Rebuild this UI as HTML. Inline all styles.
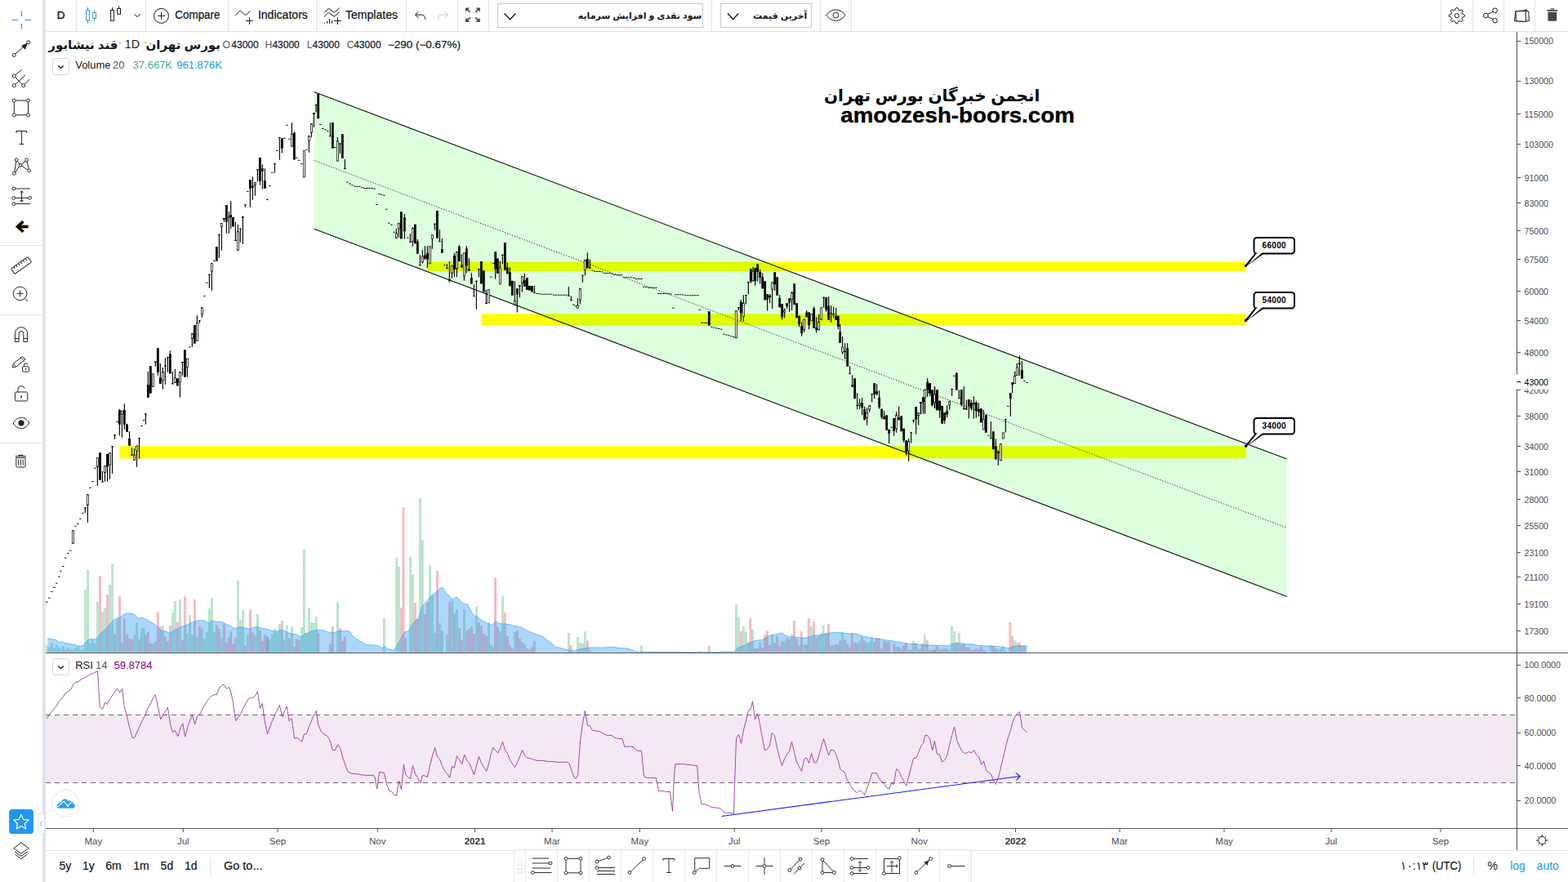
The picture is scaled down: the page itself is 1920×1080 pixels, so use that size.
<!DOCTYPE html>
<html><head><meta charset="utf-8"><title>Chart</title>
<style>
html,body{margin:0;padding:0;background:#fff;width:1920px;height:1080px;overflow:hidden}
svg{position:absolute;left:0;top:0;font-family:"Liberation Sans",sans-serif}
</style></head><body>
<svg width="1920" height="1080" viewBox="0 0 1920 1080">
<rect width="1920" height="1080" fill="#fff"/>
<g id="chart"><rect x="523.7" y="320.5" width="1002" height="11.7" fill="#ffff00"/><rect x="589.5" y="384.3" width="936.2" height="14" fill="#ffff00"/><rect x="146.3" y="546.3" width="1379.4" height="15" fill="#ffff00"/><polygon points="384.5,112.5 1575.8,562.1 1575.8,730.5 384.5,280.2" fill="#00ff00" fill-opacity="0.13"/><path d="M384.5 112.5L1575.8 562.1M384.5 280.2L1575.8 730.5" stroke="#0a1a0a" stroke-width="1.1" fill="none"/><path d="M384.5 196.4L1575.8 646.2" stroke="#222" stroke-width="1" stroke-dasharray="1.2 2" fill="none"/><path d="M103.06 722.06h3V798.8h-3zM106.12 697.34h3V798.8h-3zM117.94 737.16h3V798.8h-3zM124.06 749.19h3V798.8h-3zM127.12 745.03h3V798.8h-3zM133.03 715.94h3V798.8h-3zM136.09 690.12h3V798.8h-3zM198 766.25h3V798.8h-3zM210.03 749.84h3V798.8h-3zM212.88 736.06h3V798.8h-3zM219 734.09h3V798.8h-3zM231.03 753.12h3V798.8h-3zM254.88 745.03h3V798.8h-3zM257.94 732.12h3V798.8h-3zM289.88 711.12h3V798.8h-3zM292.94 759.03h3V798.8h-3zM296 747h3V798.8h-3zM313.94 752.03h3V798.8h-3zM334.94 769.97h3V798.8h-3zM340.84 764.06h3V798.8h-3zM349.81 765.16h3V798.8h-3zM355.94 767.12h3V798.8h-3zM367.97 768h3V798.8h-3zM370.81 672.19h3V798.8h-3zM376.94 743.94h3V798.8h-3zM380 761.88h3V798.8h-3zM382.84 762.97h3V798.8h-3zM385.91 754.88h3V798.8h-3zM411.94 737.16h3V798.8h-3zM468.81 757.06h3V798.8h-3zM484.09 683.12h3V798.8h-3zM486.94 694.06h3V798.8h-3zM500.94 681.38h3V798.8h-3zM503.78 703.25h3V798.8h-3zM512.97 610.06h3V798.8h-3zM515.81 661.25h3V798.8h-3zM525 692.31h3V798.8h-3zM528.06 729.06h3V798.8h-3zM530.91 775h3V798.8h-3zM537.03 762.97h3V798.8h-3zM546 777.19h3V798.8h-3zM552.12 734.97h3V798.8h-3zM558.03 746.12h3V798.8h-3zM567 746.12h3V798.8h-3zM582.09 742.19h3V798.8h-3zM596.97 762.31h3V798.8h-3zM600.03 789.22h3V798.8h-3zM602 792.5h3V798.8h-3zM610.97 772.81h3V798.8h-3zM614.03 730.16h3V798.8h-3zM629.12 773.25h3V798.8h-3zM638.09 785.94h3V798.8h-3zM694.97 775h3V798.8h-3zM705.91 780.03h3V798.8h-3zM708.97 787.03h3V798.8h-3zM712.03 788.12h3V798.8h-3zM714.88 773.25h3V798.8h-3zM784 790.31h3V798.8h-3zM854.88 796.88h3V798.8h-3zM900.06 740h3V798.8h-3zM902.91 755.31h3V798.8h-3zM909.03 766.91h3V798.8h-3zM911.88 773.91h3V798.8h-3zM914.94 785.94h3V798.8h-3zM920.19 771.06h3V798.8h-3zM944.03 777.19h3V798.8h-3zM968.09 777.19h3V798.8h-3zM991.94 767.34h3V798.8h-3zM1003.97 775h3V798.8h-3zM1006.81 765.16h3V798.8h-3zM1030 774.12h3V798.8h-3zM1065.88 780.47h3V798.8h-3zM1116.84 785.06h3V798.8h-3zM1130.84 777.19h3V798.8h-3zM1163.88 766.25h3V798.8h-3zM1166.94 773.25h3V798.8h-3zM1172.84 775h3V798.8h-3zM1211.78 790.31h3V798.8h-3zM1226.88 791.41h3V798.8h-3zM1240.88 784.19h3V798.8h-3zM1243.94 787.03h3V798.8h-3zM1253.12 790.75h3V798.8h-3zM55.83 790.42h3V798.8h-3zM58.83 792.72h3V798.8h-3zM61.83 786.92h3V798.8h-3zM64.83 794.03h3V798.8h-3zM67.83 789.27h3V798.8h-3zM70.83 792.46h3V798.8h-3zM72.83 795.12h3V798.8h-3zM75.83 791.18h3V798.8h-3zM78.83 795.67h3V798.8h-3zM81.83 792.69h3V798.8h-3zM84.83 795.7h3V798.8h-3zM87.83 795.69h3V798.8h-3zM90.83 793.73h3V798.8h-3zM93.83 792.1h3V798.8h-3zM96.83 796.08h3V798.8h-3zM99.83 795.3h3V798.8h-3zM108.83 787.37h3V798.8h-3zM111.83 783.6h3V798.8h-3zM114.83 787.88h3V798.8h-3zM142 758.62h3V798.8h-3zM147.83 786.14h3V798.8h-3zM163 776.82h3V798.8h-3zM166 762.33h3V798.8h-3zM172 770.32h3V798.8h-3zM174.5 768.69h3V798.8h-3zM185.83 788.3h3V798.8h-3zM227.83 775.83h3V798.8h-3zM233.83 777.37h3V798.8h-3zM239.83 780.65h3V798.8h-3zM245.83 768.93h3V798.8h-3zM248.83 782.3h3V798.8h-3zM251.83 774.12h3V798.8h-3zM260.83 774.58h3V798.8h-3zM269.83 781.61h3V798.8h-3zM301.83 777.29h3V798.8h-3zM310.83 778.08h3V798.8h-3zM325.83 779.84h3V798.8h-3zM328.83 782.84h3V798.8h-3zM331.83 776.2h3V798.8h-3zM337.83 774.47h3V798.8h-3zM346.83 783.14h3V798.8h-3zM373.83 775.92h3V798.8h-3zM959.17 784.93h3V798.8h-3zM983.17 789.02h3V798.8h-3zM1001.17 778.84h3V798.8h-3zM1019.17 789.66h3V798.8h-3zM1051.17 784.74h3V798.8h-3zM1060.17 787.13h3V798.8h-3zM1063.17 786.02h3V798.8h-3zM1096.17 791.77h3V798.8h-3zM1111.17 795.65h3V798.8h-3zM1123.17 794.85h3V798.8h-3zM1142.83 794.42h3V798.8h-3zM1161.17 795.89h3V798.8h-3zM1202.83 795.82h3V798.8h-3zM1223.83 794.31h3V798.8h-3z" fill="#3cb371" fill-opacity="0.35"/><path d="M121 705h3V798.8h-3zM129.97 727.97h3V798.8h-3zM145.06 730.16h3V798.8h-3zM191.88 749.19h3V798.8h-3zM194.94 767.34h3V798.8h-3zM206.97 766.25h3V798.8h-3zM215.94 761.88h3V798.8h-3zM224.91 730.16h3V798.8h-3zM236.94 734.09h3V798.8h-3zM304.97 746.12h3V798.8h-3zM343.91 760.12h3V798.8h-3zM405.81 767.12h3V798.8h-3zM415 769.09h3V798.8h-3zM490 743.94h3V798.8h-3zM492.41 621.22h3V798.8h-3zM495.25 781.12h3V798.8h-3zM506.84 738.03h3V798.8h-3zM509.91 757.94h3V798.8h-3zM518.88 752.03h3V798.8h-3zM521.94 737.81h3V798.8h-3zM533.97 699.09h3V798.8h-3zM539.88 772.16h3V798.8h-3zM549.06 737.16h3V798.8h-3zM554.97 750.94h3V798.8h-3zM561.09 768.88h3V798.8h-3zM563.94 784.19h3V798.8h-3zM570.06 772.16h3V798.8h-3zM573.12 769.97h3V798.8h-3zM575.97 766.91h3V798.8h-3zM579.03 776.09h3V798.8h-3zM584.94 762.31h3V798.8h-3zM588 766.25h3V798.8h-3zM591.06 776.09h3V798.8h-3zM593.91 778.94h3V798.8h-3zM605.06 707.19h3V798.8h-3zM607.91 768h3V798.8h-3zM616.88 750.06h3V798.8h-3zM619.94 778.94h3V798.8h-3zM623 790.31h3V798.8h-3zM626.06 794.03h3V798.8h-3zM631.97 772.16h3V798.8h-3zM635.03 782h3V798.8h-3zM640.94 789.22h3V798.8h-3zM644 794.03h3V798.8h-3zM647.06 795.78h3V798.8h-3zM697.81 790.31h3V798.8h-3zM717.94 784.19h3V798.8h-3zM866.91 790.97h3V798.8h-3zM905.97 772.81h3V798.8h-3zM917.34 757.06h3V798.8h-3zM935.06 777.19h3V798.8h-3zM937.91 772.16h3V798.8h-3zM970.94 760.12h3V798.8h-3zM979.91 773.25h3V798.8h-3zM988.88 757.06h3V798.8h-3zM995 761.22h3V798.8h-3zM1009.88 775h3V798.8h-3zM1012.94 764.06h3V798.8h-3zM1041.81 775h3V798.8h-3zM1071.78 781.12h3V798.8h-3zM1074.84 781.12h3V798.8h-3zM1107.88 787.03h3V798.8h-3zM1119.91 788.12h3V798.8h-3zM1128 788.12h3V798.8h-3zM1133.91 784.19h3V798.8h-3zM1169.78 785.94h3V798.8h-3zM1235.41 762.09h3V798.8h-3zM1238.03 778.94h3V798.8h-3zM1247 787.03h3V798.8h-3zM1250.06 790.75h3V798.8h-3zM139 777.09h3V798.8h-3zM150.83 757.78h3V798.8h-3zM154 776.85h3V798.8h-3zM157 781.79h3V798.8h-3zM160 782.72h3V798.8h-3zM169 782.79h3V798.8h-3zM176.83 777.44h3V798.8h-3zM179.83 773.44h3V798.8h-3zM182.83 787.77h3V798.8h-3zM188.83 785.38h3V798.8h-3zM200.83 779.43h3V798.8h-3zM203.83 784.97h3V798.8h-3zM221.83 783.59h3V798.8h-3zM242.83 766.25h3V798.8h-3zM263.83 765.45h3V798.8h-3zM266.83 769.56h3V798.8h-3zM272.83 764.02h3V798.8h-3zM275.83 787.19h3V798.8h-3zM278.83 780.46h3V798.8h-3zM281.17 773.22h3V798.8h-3zM283.83 787.89h3V798.8h-3zM286.83 780.82h3V798.8h-3zM298.83 790.45h3V798.8h-3zM307.83 774.4h3V798.8h-3zM316.83 772.14h3V798.8h-3zM319.83 784.74h3V798.8h-3zM322.83 777.01h3V798.8h-3zM325.83 779.54h3V798.8h-3zM352.83 781.46h3V798.8h-3zM358.83 792.24h3V798.8h-3zM361.83 782.19h3V798.8h-3zM364.83 784.21h3V798.8h-3zM388.17 775.41h3V798.8h-3zM402.83 787.88h3V798.8h-3zM417.83 784.82h3V798.8h-3zM420.83 779.26h3V798.8h-3zM649.83 792.33h3V798.8h-3zM652.83 785.26h3V798.8h-3zM720.83 796.62h3V798.8h-3zM923.17 793.99h3V798.8h-3zM926.17 794.46h3V798.8h-3zM929.17 786.54h3V798.8h-3zM932.17 793.49h3V798.8h-3zM941.17 790.03h3V798.8h-3zM947.17 787.08h3V798.8h-3zM950.17 778.82h3V798.8h-3zM953.17 791.62h3V798.8h-3zM956.17 785.19h3V798.8h-3zM962.17 781h3V798.8h-3zM965.17 782.74h3V798.8h-3zM974.17 782.48h3V798.8h-3zM977.17 790.73h3V798.8h-3zM986.17 789.52h3V798.8h-3zM998.17 780.2h3V798.8h-3zM1016.17 790.18h3V798.8h-3zM1022.17 788.64h3V798.8h-3zM1024.83 788.61h3V798.8h-3zM1027.17 784.18h3V798.8h-3zM1033.17 782.88h3V798.8h-3zM1036.17 788.6h3V798.8h-3zM1039.17 793.03h3V798.8h-3zM1045.17 786.18h3V798.8h-3zM1048.17 787.27h3V798.8h-3zM1054.17 779.72h3V798.8h-3zM1057.17 784.38h3V798.8h-3zM1069.17 786.08h3V798.8h-3zM1078.17 794.17h3V798.8h-3zM1081.17 784.75h3V798.8h-3zM1084.17 786.5h3V798.8h-3zM1087.17 785.73h3V798.8h-3zM1093.17 787.4h3V798.8h-3zM1099.17 791.92h3V798.8h-3zM1102.17 794.81h3V798.8h-3zM1105.17 790.49h3V798.8h-3zM1114.17 795.73h3V798.8h-3zM1125.83 795.38h3V798.8h-3zM1126.17 794.21h3V798.8h-3zM1136.83 796.27h3V798.8h-3zM1137.17 796.61h3V798.8h-3zM1139.83 795.69h3V798.8h-3zM1140.17 796.01h3V798.8h-3zM1143.17 796.52h3V798.8h-3zM1145.83 791.26h3V798.8h-3zM1146.17 792.87h3V798.8h-3zM1149.17 795.76h3V798.8h-3zM1152.17 795.13h3V798.8h-3zM1155.17 794.61h3V798.8h-3zM1158.17 794.59h3V798.8h-3zM1175.83 789.15h3V798.8h-3zM1178.83 788.37h3V798.8h-3zM1181.83 792.73h3V798.8h-3zM1184.83 792.68h3V798.8h-3zM1187.83 795.66h3V798.8h-3zM1190.83 795.7h3V798.8h-3zM1193.83 794.38h3V798.8h-3zM1196.83 795.07h3V798.8h-3zM1199.83 791.73h3V798.8h-3zM1205.83 796.65h3V798.8h-3zM1214.83 791.34h3V798.8h-3zM1217.83 793.92h3V798.8h-3zM1220.83 796.14h3V798.8h-3zM1229.83 797.25h3V798.8h-3z" fill="#e63c4b" fill-opacity="0.35"/><polygon points="58.19,798.8 58.19,781.56 64.75,782.66 69.12,783.75 72.41,786.59 75.69,785.94 80.06,787.47 86.62,788.56 91,789.22 95.38,790.97 99.75,790.75 103.03,789.88 106.31,784.84 109.59,782.66 116.16,782.66 119.44,780.47 123.81,775 130.38,769.53 134.75,764.06 139.12,759.25 143.5,757.06 147.88,755.31 152.25,752.03 156.62,750.94 162.09,750.94 165.38,753.12 168.66,757.06 175.22,756.41 178.5,757.94 182.88,760.78 187.25,762.97 191.62,766.25 196,770.62 199.28,773.47 202.56,772.81 206.94,775 209.12,774.56 213.5,771.72 217.88,769.53 222.25,767.34 226.62,766.25 231,764.06 235.38,761.88 239.75,760.34 246.31,759.25 250.69,760.34 255.06,762.97 260.53,760.12 266,761.44 271.47,761.44 274.75,762.97 279.12,765.16 283.5,767.34 286.78,769.53 293.34,768 298.81,768.44 305.38,770.19 309.75,768.44 314.12,767.34 318.5,768.88 325.06,770.19 329.44,771.06 333.81,772.81 338.19,773.25 344.75,771.28 349.12,772.81 353.5,775 357.88,776.09 364.44,777.19 368.81,780.47 373.19,775.66 377.56,775 381.94,772.81 388.5,771.28 393.97,771.28 399.44,772.81 403.81,775 410.38,774.34 414.75,772.81 421.31,772.38 425.69,772.16 428.97,773.91 432.25,779.38 438.81,783.75 445.38,787.69 449.75,789.44 458.5,789.88 460,789.88 464.38,791.41 467.66,793.59 470.94,791.41 475.31,794.69 481.88,796.22 485.16,792.5 490.62,782.66 495,773.91 500.47,772.81 503.75,766.25 508.12,760.78 512.5,756.41 516.88,742.19 521.25,737.81 525.62,732.34 530,727.97 534.38,724.69 537.66,721.41 542.03,719.22 545.31,724.69 549.69,729.06 552.97,733.88 559.53,731.25 562.81,734.53 567.19,738.91 572.66,740 575.94,746.56 579.22,753.12 583.59,754.88 589.06,759.25 594.53,761.88 600,764.72 603.28,765.16 607,760.78 610.94,763.62 617.5,764.06 624.06,764.5 629.53,766.69 635,766.91 639.38,768.44 645.94,772.38 652.5,775 659.06,777.62 664.53,778.94 670,783.75 674.38,786.38 679.84,792.06 685.31,793.16 690.78,794.69 696.25,796.22 702.81,796.88 707.19,795.78 713.75,794.25 720.31,792.94 729.06,792.94 740,792.94 746.56,792.5 750.94,791.84 757.5,793.59 766.25,793.81 772.81,795.34 779.38,797.97 788.12,798.19 831.88,798.19 836.25,798.62 858.12,798.62 860,798.62 879.69,798.62 884.06,797.97 899.38,797.97 902.66,794.25 907.03,792.06 912.5,789.88 916.88,788.56 921.25,785.5 925.62,784.19 934.38,783.31 938.75,780.47 944.22,777.62 949.69,776.75 954.06,775.66 957.34,775 961.72,778.28 967.19,780.03 973.75,779.81 979.22,781.12 985.78,781.12 991.25,779.81 996.72,778.28 1004.38,777.62 1010.94,776.75 1015.75,775 1021.88,774.56 1028.44,774.56 1035,775.44 1041.56,776.09 1048.12,776.09 1054.69,778.28 1059.06,779.81 1065.62,780.69 1072.19,782 1078.75,782.66 1085.31,783.75 1091.88,784.41 1096.25,785.5 1102.81,786.38 1109.38,787.69 1115.94,788.56 1122.5,788.56 1129.06,789.88 1135.62,789.88 1144.38,790.31 1153.12,790.31 1161.88,790.75 1165.16,788.56 1170.62,788.12 1177.19,787.69 1183.75,788.56 1190.31,788.78 1196.88,790.31 1205.62,790.75 1214.38,790.75 1223.12,791.41 1231.88,793.16 1236.25,793.59 1240.62,791.41 1245,790.75 1257.69,790.75 1257.69,798.8" fill="#2196f3" fill-opacity="0.38"/><polyline points="58.19,781.56 64.75,782.66 69.12,783.75 72.41,786.59 75.69,785.94 80.06,787.47 86.62,788.56 91,789.22 95.38,790.97 99.75,790.75 103.03,789.88 106.31,784.84 109.59,782.66 116.16,782.66 119.44,780.47 123.81,775 130.38,769.53 134.75,764.06 139.12,759.25 143.5,757.06 147.88,755.31 152.25,752.03 156.62,750.94 162.09,750.94 165.38,753.12 168.66,757.06 175.22,756.41 178.5,757.94 182.88,760.78 187.25,762.97 191.62,766.25 196,770.62 199.28,773.47 202.56,772.81 206.94,775 209.12,774.56 213.5,771.72 217.88,769.53 222.25,767.34 226.62,766.25 231,764.06 235.38,761.88 239.75,760.34 246.31,759.25 250.69,760.34 255.06,762.97 260.53,760.12 266,761.44 271.47,761.44 274.75,762.97 279.12,765.16 283.5,767.34 286.78,769.53 293.34,768 298.81,768.44 305.38,770.19 309.75,768.44 314.12,767.34 318.5,768.88 325.06,770.19 329.44,771.06 333.81,772.81 338.19,773.25 344.75,771.28 349.12,772.81 353.5,775 357.88,776.09 364.44,777.19 368.81,780.47 373.19,775.66 377.56,775 381.94,772.81 388.5,771.28 393.97,771.28 399.44,772.81 403.81,775 410.38,774.34 414.75,772.81 421.31,772.38 425.69,772.16 428.97,773.91 432.25,779.38 438.81,783.75 445.38,787.69 449.75,789.44 458.5,789.88 460,789.88 464.38,791.41 467.66,793.59 470.94,791.41 475.31,794.69 481.88,796.22 485.16,792.5 490.62,782.66 495,773.91 500.47,772.81 503.75,766.25 508.12,760.78 512.5,756.41 516.88,742.19 521.25,737.81 525.62,732.34 530,727.97 534.38,724.69 537.66,721.41 542.03,719.22 545.31,724.69 549.69,729.06 552.97,733.88 559.53,731.25 562.81,734.53 567.19,738.91 572.66,740 575.94,746.56 579.22,753.12 583.59,754.88 589.06,759.25 594.53,761.88 600,764.72 603.28,765.16 607,760.78 610.94,763.62 617.5,764.06 624.06,764.5 629.53,766.69 635,766.91 639.38,768.44 645.94,772.38 652.5,775 659.06,777.62 664.53,778.94 670,783.75 674.38,786.38 679.84,792.06 685.31,793.16 690.78,794.69 696.25,796.22 702.81,796.88 707.19,795.78 713.75,794.25 720.31,792.94 729.06,792.94 740,792.94 746.56,792.5 750.94,791.84 757.5,793.59 766.25,793.81 772.81,795.34 779.38,797.97 788.12,798.19 831.88,798.19 836.25,798.62 858.12,798.62 860,798.62 879.69,798.62 884.06,797.97 899.38,797.97 902.66,794.25 907.03,792.06 912.5,789.88 916.88,788.56 921.25,785.5 925.62,784.19 934.38,783.31 938.75,780.47 944.22,777.62 949.69,776.75 954.06,775.66 957.34,775 961.72,778.28 967.19,780.03 973.75,779.81 979.22,781.12 985.78,781.12 991.25,779.81 996.72,778.28 1004.38,777.62 1010.94,776.75 1015.75,775 1021.88,774.56 1028.44,774.56 1035,775.44 1041.56,776.09 1048.12,776.09 1054.69,778.28 1059.06,779.81 1065.62,780.69 1072.19,782 1078.75,782.66 1085.31,783.75 1091.88,784.41 1096.25,785.5 1102.81,786.38 1109.38,787.69 1115.94,788.56 1122.5,788.56 1129.06,789.88 1135.62,789.88 1144.38,790.31 1153.12,790.31 1161.88,790.75 1165.16,788.56 1170.62,788.12 1177.19,787.69 1183.75,788.56 1190.31,788.78 1196.88,790.31 1205.62,790.75 1214.38,790.75 1223.12,791.41 1231.88,793.16 1236.25,793.59 1240.62,791.41 1245,790.75 1257.69,790.75" fill="none" stroke="#2196f3" stroke-opacity="0.55" stroke-width="1"/><path d="M104.33 621.33V628.33M107.33 605.33V639.67M119.33 560.17V594.83M125.5 577.08V589.75M128.5 570.17V589.83M131.5 556.08V589.83M134.5 554.33V586.83M137.5 546.25V579.83M140.5 532.17V537.92M146.33 500.83V533.33M149.33 503V535.83M152.33 494.17V525.83M155.5 518.75V528.75M158.5 528.17V545.83M161.5 548.17V557.67M164.5 549.17V563.75M167.5 545.42V571.83M170.5 536.33V561.67M178.33 506.17V519.67M181.33 455V486.67M190.33 442.5V448.67M193.33 426.17V459.67M196.33 445V470M199.33 450V476.67M202.33 438.33V470.83M205.33 437.33V455.83M208.33 429.17V457.5M211.33 455V470.83M214.33 452V468.67M220.33 455.33V486.67M223.33 443V459.67M229.33 438.67V461.67M235.33 408.33V425M241.33 386.17V417.5M244.33 392.17V395.83M247.33 376.33V388.67M256.33 335.83V352.83M259.33 322.17V355.83M268.33 286.83V315.83M271.33 273V306.67M274.33 267V271.67M277.33 251V285.83M280.33 259.17V285.83M282.67 246.17V280M288.33 272V294.67M291.33 275V306.67M294.33 279.67V296.67M297.33 265V298.67M300.33 250.33V253.67M306.33 220V253.67M309.33 216.17V244.67M312.33 223.33V239.67M315.33 207.17V222.5M318.33 193V226.67M321.33 201.33V231.67M324.33 206.17V230.83M336.33 200V211.67M342.33 168V195.83M345.33 169.17V187.5M357.33 150V179.5M360.33 161.33V195.5M378.33 166.33V186.67M381.33 151.33V168.33M384.33 138V155.83M387 128V137.5M404.33 150V167M413.33 168V197.5M416.33 175.5V188.33M422.33 195V206.67M485.33 280V291.67M488.33 273.33V290.83M495.33 262V292.5M502.33 286.33V296.67M505.33 278.33V301.67M508.33 274.17V298.33M511.33 293V310.83M514.33 312.17V324.83M517.33 306.17V322.5M520.33 301.33V318.33M523.33 301.33V328.33M529.33 287.5V304.67M532.33 273.83V281.67M538.33 281.33V295.83M541.33 292V309.67M547.33 323.33V329M550.33 320V345.83M553.33 324.67V340.83M556.33 310V339.17M559.33 308.33V339.17M562.33 300V320M565.33 311.33V327.5M568.33 309.5V343.67M571.33 301.17V334.17M574.33 316.17V331.67M577.33 334.17V347.5M580.33 348.33V362.83M583.33 343.83V378.67M586.33 329.33V339.17M595.33 355V371.67M606.67 308.33V341.67M609.33 315.83V335M612.33 319.5V348.33M615.33 311.83V323.33M621.33 322V335.33M624.33 327.5V350.33M630.33 344.17V373M630.33 360V373.33M633.33 353.33V382.5M633.33 353.33V382.5M636.33 349.17V364.17M639.33 338.33V357.5M642.33 335V350.83M654.33 350V358.67M696.33 351.17V362.33M699.33 362.5V367.83M707.33 365.33V377.5M710.33 353.33V372.5M713.33 336.83V345.83M716.33 318.33V337.5M719.33 309.17V328.33M722.33 317.5V328.33M904.33 376.33V380M907.33 367V393.33M910.33 361.33V393.67M913.33 361V372.5M916.33 345.17V360.33M919.33 329.17V346.67M922 326.67V344.17M924.67 328.33V349.67M927.67 323.33V344.67M930.67 330V347.5M933.67 334.17V353.33M939.67 360V380.5M942.67 360V371.33M945.67 345.5V378.33M948.67 333.33V355.83M954.67 361.17V376.33M957.67 372V391.33M960.67 377.5V389.17M963.67 371.33V378.33M966.67 365.33V382M969.67 357V380M978.67 386.67V400.33M981.67 394.17V411.67M984.67 390.83V406.67M987.67 380V388.33M990.67 382.5V403.33M996.67 375.33V401.67M999.67 388.33V407.5M1002.67 385V404.17M1008.67 363.83V376.67M1011.67 364.17V381.67M1014.67 363.33V391.67M1017.67 374.17V394.67M1020.67 375.83V389.17M1023.67 377V391.67M1026.33 386.67V403.33M1028.67 396.67V419.67M1031.67 412V433.67M1034.67 420.33V439.67M1037.67 420.33V448.67M1040.67 448.33V457.83M1043.67 459.17V473.67M1049.67 481.33V501.33M1052.67 488.33V501.33M1055.67 487V508.33M1058.67 497.5V514.17M1061.67 499.17V520.83M1064.67 496.33V504.67M1067.67 482.17V492.5M1070.67 469.17V488.33M1073.67 470.33V484.17M1076.67 478.33V500.83M1079.67 500.83V513.33M1082.67 503.33V513.33M1088.67 525.83V543M1094.67 512V533.67M1097.67 504.17V529.67M1100.67 498V515M1106.67 524.67V541.67M1109.67 539.17V557.5M1112.67 537V564.67M1115.67 529.17V542.5M1118.67 514.33V517.5M1121.67 498V531.67M1124.67 505.33V520.83M1127.33 492V506.67M1127.67 492V507.5M1130.33 486.33V504.17M1130.67 486.33V506.67M1132.67 476.67V506.67M1135.67 463V485.83M1135.67 463.33V477M1138.67 469.17V485.33M1141.33 477.5V497.5M1141.67 477.5V497.5M1144.33 473.33V500M1144.67 473.33V500M1150.67 490.83V511.67M1156.67 505.33V518.67M1159.67 496.33V511.33M1162.67 491.33V501.67M1165.67 476V484.67M1171.33 455.83V477.5M1174.33 477.5V487.83M1177.33 477.17V497.5M1180.33 473.33V501.67M1183.33 489.67V501.67M1186.33 489.17V512.5M1189.33 489.67V502.5M1192.33 485.33V512.5M1195.33 490.83V511.67M1198.33 493.33V510M1204.33 501.67V526.33M1213.33 516.17V536.67M1219.33 537.5V562.5M1222.33 551.33V569.67M1231.33 513.33V529.5M1237.33 481.33V509.67M1239.67 468.33V481.33M1242.67 454.67V470M1245.33 444.67V460M1248.33 435.33V460M1251.44 442V463.67" stroke="#000" stroke-width="1.15" fill="none"/><path d="M56.18 736.67h2.3v1h-2.3zM59.18 731.67h2.3v1h-2.3zM62.18 724h2.3v1h-2.3zM65.18 719h2.3v1h-2.3zM68.18 713.83h2.3v1h-2.3zM71.18 705.83h2.3v1h-2.3zM73.18 698.83h2.3v1h-2.3zM76.18 693h2.3v1h-2.3zM79.18 682.83h2.3v1h-2.3zM82.18 677h2.3v1h-2.3zM85.18 673.83h2.3v1h-2.3zM87.93 649.33h2.8v16.33h-2.8zM91.18 643.83h2.3v1h-2.3zM94.18 641h2.3v1h-2.3zM97.18 634.83h2.3v1h-2.3zM100.18 627.83h2.3v1h-2.3zM102.93 621.33h2.8v1h-2.8zM105.93 605.33h2.8v13.33h-2.8zM109.18 596.83h2.3v1h-2.3zM112.18 589h2.3v1h-2.3zM115.18 572.83h2.3v1h-2.3zM117.93 560.17h2.8v11.5h-2.8zM121.1 554.17h2.8v33.5h-2.8zM124.1 589.42h2.8v1h-2.8zM127.1 570.17h2.8v8.58h-2.8zM130.1 556.08h2.8v15.58h-2.8zM133.1 554.33h2.8v15.25h-2.8zM136.1 546.25h2.8v1h-2.8zM139.1 532.17h2.8v1h-2.8zM142.35 515.92h2.3v1h-2.3zM144.93 502h2.8v17.67h-2.8zM147.93 503h2.8v4.5h-2.8zM150.93 502h2.8v17.67h-2.8zM154.1 519.83h2.8v8.92h-2.8zM157.1 537.08h2.8v8.75h-2.8zM160.1 556.5h2.8v1.17h-2.8zM163.1 556.67h2.8v7.08h-2.8zM166.1 545.42h2.8v7.08h-2.8zM169.1 536.33h2.8v1h-2.8zM172.35 521h2.3v1h-2.3zM174.85 513.92h2.3v1h-2.3zM176.93 506.17h2.8v1h-2.8zM179.93 471.33h2.8v15.33h-2.8zM182.93 448.33h2.8v33.33h-2.8zM185.93 457.5h2.8v16.17h-2.8zM188.93 442.5h2.8v1.17h-2.8zM191.93 426.17h2.8v29.67h-2.8zM194.93 462.5h2.8v7.5h-2.8zM197.93 455.33h2.8v11h-2.8zM200.93 447.67h2.8v1h-2.8zM203.93 437.33h2.8v1h-2.8zM206.93 433.33h2.8v24.17h-2.8zM209.93 469.17h2.8v1h-2.8zM212.93 462.5h2.8v6.17h-2.8zM215.93 463.33h2.8v9.17h-2.8zM218.93 455.33h2.8v13h-2.8zM221.93 443h2.8v1h-2.8zM224.93 428.33h2.8v33.33h-2.8zM227.93 438.67h2.8v11.67h-2.8zM231.18 424.5h2.3v1h-2.3zM233.93 408.33h2.8v6.33h-2.8zM236.93 398h2.8v22.83h-2.8zM239.93 395h2.8v22.5h-2.8zM242.93 392.17h2.8v1h-2.8zM245.93 376.33h2.8v9h-2.8zM249.18 362h2.3v1h-2.3zM252.18 345.83h2.3v1h-2.3zM254.93 335.83h2.8v1h-2.8zM257.93 322.17h2.8v10.33h-2.8zM261.18 319h2.3v1h-2.3zM263.93 302h2.8v17.67h-2.8zM266.93 286.83h2.8v1h-2.8zM269.93 273h2.8v4.5h-2.8zM272.93 267h2.8v1.67h-2.8zM275.93 251h2.8v20.67h-2.8zM278.93 265.5h2.8v1h-2.8zM281.27 263.33h2.8v3h-2.8zM283.93 266h2.8v11.5h-2.8zM286.93 294h2.8v1h-2.8zM289.93 283.33h2.8v23.33h-2.8zM292.93 279.67h2.8v1h-2.8zM295.93 265h2.8v1.67h-2.8zM298.93 250.33h2.8v1h-2.8zM302.18 234h2.3v1h-2.3zM304.93 220h2.8v10.83h-2.8zM307.93 227.5h2.8v2.17h-2.8zM310.93 223.33h2.8v3.33h-2.8zM313.93 207.17h2.8v1h-2.8zM316.93 193h2.8v28.67h-2.8zM319.93 206.33h2.8v3.33h-2.8zM322.93 221.17h2.8v9.67h-2.8zM326.18 243.83h2.3v1h-2.3zM326.18 244h2.3v1h-2.3zM329.18 227h2.3v1h-2.3zM332.18 210.83h2.3v1h-2.3zM334.93 200h2.8v1h-2.8zM338.18 184h2.3v1h-2.3zM340.93 168h2.8v1h-2.8zM343.93 169.17h2.8v12.5h-2.8zM347.18 168.83h2.3v1h-2.3zM350.18 152.83h2.3v1h-2.3zM353.18 169.83h2.3v1h-2.3zM355.93 164.17h2.8v15.33h-2.8zM358.93 162.5h2.8v33h-2.8zM362.18 192.83h2.3v1h-2.3zM365.18 195.83h2.3v1h-2.3zM368.18 200h2.3v1h-2.3zM370.93 184.17h2.8v33.33h-2.8zM374.18 182.83h2.3v1h-2.3zM376.93 166.33h2.8v7h-2.8zM379.93 151.33h2.8v11.17h-2.8zM382.93 138h2.8v1.67h-2.8zM385.6 128h2.8v1h-2.8zM388.27 114.67h2.8v30.67h-2.8zM391.18 152h2.3v1h-2.3zM394.18 157h2.3v1h-2.3zM397.18 158.17h2.3v1h-2.3zM400.18 160.17h2.3v1h-2.3zM402.93 166.33h2.8v1h-2.8zM405.93 150h2.8v31.67h-2.8zM409.18 180h2.3v1h-2.3zM411.93 172.5h2.8v25h-2.8zM414.93 175.5h2.8v1h-2.8zM417.93 164.17h2.8v29.5h-2.8zM420.93 206h2.8v1h-2.8zM424.18 222.83h2.3v1h-2.3zM427.18 224.5h2.3v1h-2.3zM430.18 226.17h2.3v1h-2.3zM433.18 227.5h2.3v1h-2.3zM436.18 228h2.3v1h-2.3zM439.18 227.83h2.3v1h-2.3zM442.18 229.17h2.3v1h-2.3zM445.18 230h2.3v1h-2.3zM448.18 230h2.3v1h-2.3zM451.18 230h2.3v1h-2.3zM454.18 230h2.3v1h-2.3zM457.18 230.83h2.3v1h-2.3zM460.18 250h2.3v1h-2.3zM463.18 237h2.3v1h-2.3zM466.18 237.83h2.3v1h-2.3zM469.18 238.67h2.3v1h-2.3zM472.18 255.67h2.3v1h-2.3zM475.18 272.83h2.3v1h-2.3zM478.18 274.83h2.3v1h-2.3zM481.18 283.67h2.3v1h-2.3zM483.93 285.33h2.8v6.33h-2.8zM486.93 273.33h2.8v7h-2.8zM489.93 259.17h2.8v33.33h-2.8zM493.93 266.17h2.8v17.17h-2.8zM498.18 290.83h2.3v1h-2.3zM500.93 296h2.8v1h-2.8zM503.93 279.17h2.8v16.67h-2.8zM506.93 275h2.8v23.33h-2.8zM509.93 295.83h2.8v15h-2.8zM512.93 324.17h2.8v1h-2.8zM515.93 313.67h2.8v7.67h-2.8zM518.93 312.5h2.8v4.17h-2.8zM521.93 310h2.8v7.5h-2.8zM524.93 301.33h2.8v22h-2.8zM527.93 287.5h2.8v5h-2.8zM530.93 273.83h2.8v1h-2.8zM533.93 258h2.8v33.67h-2.8zM536.93 295.17h2.8v1h-2.8zM539.93 305.33h2.8v4.33h-2.8zM543.18 324.17h2.3v1h-2.3zM545.93 328.33h2.8v1h-2.8zM548.93 341.67h2.8v2.5h-2.8zM551.93 324.67h2.8v10h-2.8zM554.93 313h2.8v17h-2.8zM557.93 308.33h2.8v20.83h-2.8zM560.93 301.67h2.8v18.33h-2.8zM563.93 324.17h2.8v3.33h-2.8zM566.93 309.5h2.8v28.83h-2.8zM569.93 304.17h2.8v21.17h-2.8zM572.93 329.17h2.8v2.5h-2.8zM575.93 340h2.8v7.5h-2.8zM578.93 362.17h2.8v1h-2.8zM581.93 343.83h2.8v1h-2.8zM584.93 329.33h2.8v1h-2.8zM587.93 320h2.8v27.5h-2.8zM590.93 331.33h2.8v26.17h-2.8zM593.93 371h2.8v1h-2.8zM596.93 354.17h2.8v17.17h-2.8zM600.18 338.83h2.3v1h-2.3zM603.18 322h2.3v1h-2.3zM605.27 308.33h2.8v21.33h-2.8zM607.93 316.67h2.8v18.33h-2.8zM610.93 327.5h2.8v20.83h-2.8zM613.93 311.83h2.8v1h-2.8zM616.93 297h2.8v33.83h-2.8zM619.93 327.5h2.8v7.83h-2.8zM622.93 333.33h2.8v17h-2.8zM625.93 343.67h2.8v18h-2.8zM628.93 368h2.8v5h-2.8zM628.93 368.33h2.8v5h-2.8zM631.93 353.33h2.8v7.5h-2.8zM631.93 353.33h2.8v7h-2.8zM634.93 349.17h2.8v1.67h-2.8zM637.93 338.33h2.8v8.33h-2.8zM640.93 343.33h2.8v7.5h-2.8zM643.93 340.33h2.8v14.67h-2.8zM646.93 350h2.8v5.83h-2.8zM649.93 350h2.8v7.5h-2.8zM652.93 358h2.8v1h-2.8zM656.18 359h2.3v1h-2.3zM659.18 359.17h2.3v1h-2.3zM662.18 359.83h2.3v1h-2.3zM665.18 359.83h2.3v1h-2.3zM668.18 359.83h2.3v1h-2.3zM671.18 359.83h2.3v1h-2.3zM674.18 359.83h2.3v1h-2.3zM677.18 360.67h2.3v1h-2.3zM680.18 360.67h2.3v1h-2.3zM683.18 360.67h2.3v1h-2.3zM686.18 360.67h2.3v1h-2.3zM689.18 360.67h2.3v1h-2.3zM692.18 360.67h2.3v1h-2.3zM694.93 361.67h2.8v1h-2.8zM697.93 367.17h2.8v1h-2.8zM701.18 372.83h2.3v1h-2.3zM703.52 374.5h2.3v1h-2.3zM705.93 373.33h2.8v4.17h-2.8zM708.93 353.33h2.8v14.17h-2.8zM711.93 336.83h2.8v1h-2.8zM714.93 318.33h2.8v12.5h-2.8zM717.93 316.67h2.8v11.67h-2.8zM720.93 327.67h2.8v1h-2.8zM724.18 330.83h2.3v1h-2.3zM727.18 331.67h2.3v1h-2.3zM730.18 332h2.3v1h-2.3zM733.18 332h2.3v1h-2.3zM736.18 332.5h2.3v1h-2.3zM739.18 334h2.3v1h-2.3zM742.18 334h2.3v1h-2.3zM745.18 334h2.3v1h-2.3zM748.18 334.83h2.3v1h-2.3zM751.18 335.83h2.3v1h-2.3zM754.18 336.17h2.3v1h-2.3zM757.18 336.17h2.3v1h-2.3zM760.18 336.17h2.3v1h-2.3zM763.18 339.17h2.3v1h-2.3zM766.18 339.17h2.3v1h-2.3zM769.18 339.17h2.3v1h-2.3zM772.18 339.17h2.3v1h-2.3zM775.18 340h2.3v1h-2.3zM778.18 341h2.3v1h-2.3zM781.18 341h2.3v1h-2.3zM784.18 341h2.3v1h-2.3zM787.18 350.83h2.3v1h-2.3zM790.18 351.17h2.3v1h-2.3zM793.18 351.67h2.3v1h-2.3zM796.18 351.67h2.3v1h-2.3zM799.18 351.67h2.3v1h-2.3zM802.18 351.67h2.3v1h-2.3zM805.18 359h2.3v1h-2.3zM805.18 359h2.3v1h-2.3zM808.18 359h2.3v1h-2.3zM808.18 359h2.3v1h-2.3zM811.18 359h2.3v1h-2.3zM814.18 359h2.3v1h-2.3zM817.18 359h2.3v1h-2.3zM820.18 359.5h2.3v1h-2.3zM823.18 376.67h2.3v1h-2.3zM826.18 360.17h2.3v1h-2.3zM829.18 360.17h2.3v1h-2.3zM832.18 360.17h2.3v1h-2.3zM835.18 360.5h2.3v1h-2.3zM838.18 361.17h2.3v1h-2.3zM841.18 361.17h2.3v1h-2.3zM844.18 361.17h2.3v1h-2.3zM847.18 361.17h2.3v1h-2.3zM850.18 361.17h2.3v1h-2.3zM853.18 361.17h2.3v1h-2.3zM855.52 379h2.3v1h-2.3zM858.52 394.83h2.3v1h-2.3zM861.52 394.83h2.3v1h-2.3zM864.52 394.83h2.3v1h-2.3zM866.93 381.17h2.8v17.5h-2.8zM870.18 399.83h2.3v1h-2.3zM873.18 400.83h2.3v1h-2.3zM876.18 401.5h2.3v1h-2.3zM879.18 402h2.3v1h-2.3zM882.18 402.83h2.3v1h-2.3zM885.18 408.67h2.3v1h-2.3zM888.18 409.5h2.3v1h-2.3zM891.18 410.33h2.3v1h-2.3zM894.18 411.17h2.3v1h-2.3zM897.18 412h2.3v1h-2.3zM899.93 380.33h2.8v33.83h-2.8zM902.93 376.33h2.8v1h-2.8zM905.93 370h2.8v13.33h-2.8zM908.93 370.83h2.8v17.17h-2.8zM911.93 361h2.8v1h-2.8zM914.93 345.17h2.8v1h-2.8zM917.93 329.17h2.8v15.83h-2.8zM920.6 331.67h2.8v12.5h-2.8zM923.27 328.33h2.8v15.83h-2.8zM926.27 323.33h2.8v9.67h-2.8zM929.27 333h2.8v7h-2.8zM932.27 339.17h2.8v14.17h-2.8zM935.27 344.17h2.8v23.33h-2.8zM938.27 360h2.8v6.67h-2.8zM941.27 361.67h2.8v2.5h-2.8zM944.27 345.5h2.8v9.17h-2.8zM947.27 333.33h2.8v15h-2.8zM950.27 339.17h2.8v22.5h-2.8zM953.27 365h2.8v11.33h-2.8zM956.27 372h2.8v16.33h-2.8zM959.27 379.67h2.8v2.83h-2.8zM962.27 371.33h2.8v3.67h-2.8zM965.27 365.33h2.8v5.5h-2.8zM968.27 358.33h2.8v8.67h-2.8zM971.27 347.17h2.8v26.17h-2.8zM974.27 371.33h2.8v17.83h-2.8zM977.27 386.67h2.8v10.83h-2.8zM980.27 399.17h2.8v9.17h-2.8zM983.27 390.83h2.8v13.33h-2.8zM986.27 382.5h2.8v5.83h-2.8zM989.27 382.5h2.8v15.83h-2.8zM992.27 384.17h2.8v9.17h-2.8zM995.27 377.5h2.8v24.17h-2.8zM998.27 401.33h2.8v2.83h-2.8zM1001.27 394.17h2.8v10h-2.8zM1004.27 376.33h2.8v15.33h-2.8zM1007.27 363.83h2.8v1h-2.8zM1010.27 364.17h2.8v15h-2.8zM1013.27 374.17h2.8v17.5h-2.8zM1016.27 383.33h2.8v1h-2.8zM1019.27 383.67h2.8v2.67h-2.8zM1022.27 386.67h2.8v5h-2.8zM1024.93 386.67h2.8v13.33h-2.8zM1027.27 406.33h2.8v13.33h-2.8zM1030.27 424.67h2.8v7h-2.8zM1033.27 430h2.8v1h-2.8zM1036.27 426.17h2.8v22.5h-2.8zM1039.27 457.17h2.8v1h-2.8zM1042.27 471.33h2.8v2.33h-2.8zM1045.27 463.33h2.8v25h-2.8zM1048.27 496h2.8v1h-2.8zM1051.27 493.67h2.8v3h-2.8zM1054.27 493.33h2.8v5.83h-2.8zM1057.27 500.83h2.8v13.33h-2.8zM1060.27 505.33h2.8v6.33h-2.8zM1063.27 496.33h2.8v5.33h-2.8zM1066.27 482.17h2.8v1h-2.8zM1069.27 469.17h2.8v14.17h-2.8zM1072.27 479.17h2.8v3.33h-2.8zM1075.27 487h2.8v11.67h-2.8zM1078.27 500.83h2.8v10h-2.8zM1081.27 510h2.8v3.33h-2.8zM1084.27 508.33h2.8v18.33h-2.8zM1087.27 525.83h2.8v5h-2.8zM1090.52 522.83h2.3v1h-2.3zM1093.27 512h2.8v16h-2.8zM1096.27 508.33h2.8v17h-2.8zM1099.27 511.33h2.8v2.33h-2.8zM1102.27 509.17h2.8v19.17h-2.8zM1105.27 524.67h2.8v14.5h-2.8zM1108.27 539.17h2.8v14.17h-2.8zM1111.27 540.33h2.8v12.17h-2.8zM1114.27 529.17h2.8v1h-2.8zM1117.27 514.33h2.8v1h-2.8zM1120.27 498.33h2.8v15.33h-2.8zM1123.27 505.33h2.8v3.83h-2.8zM1125.93 492h2.8v1.67h-2.8zM1126.27 492h2.8v2.17h-2.8zM1128.93 486.67h2.8v4.67h-2.8zM1129.27 486.33h2.8v5.67h-2.8zM1131.27 476.67h2.8v10.33h-2.8zM1131.27 476.67h2.8v10.83h-2.8zM1134.27 467.5h2.8v10h-2.8zM1134.27 467.5h2.8v9.5h-2.8zM1136.93 469.67h2.8v12h-2.8zM1137.27 469.17h2.8v12.5h-2.8zM1139.93 477.5h2.8v18.33h-2.8zM1140.27 477.5h2.8v18.33h-2.8zM1142.93 482.5h2.8v10.83h-2.8zM1143.27 482.5h2.8v10.83h-2.8zM1145.93 477.5h2.8v24.5h-2.8zM1146.27 477.17h2.8v25.33h-2.8zM1149.27 490.83h2.8v11.67h-2.8zM1152.27 497h2.8v21.67h-2.8zM1155.27 505.33h2.8v9.67h-2.8zM1158.27 503.33h2.8v4.17h-2.8zM1161.27 491.33h2.8v5h-2.8zM1164.27 476h2.8v1h-2.8zM1167.18 459.83h2.3v1h-2.3zM1169.93 457h2.8v20.5h-2.8zM1172.93 487.17h2.8v1h-2.8zM1175.93 477.17h2.8v18.17h-2.8zM1178.93 499.67h2.8v1.33h-2.8zM1181.93 500.33h2.8v1.33h-2.8zM1184.93 489.17h2.8v8.33h-2.8zM1187.93 493.33h2.8v6.33h-2.8zM1190.93 493h2.8v2.33h-2.8zM1193.93 493h2.8v10.33h-2.8zM1196.93 500.83h2.8v3.33h-2.8zM1199.93 500.33h2.8v17.17h-2.8zM1202.93 513h2.8v13.33h-2.8zM1205.93 507.83h2.8v21.83h-2.8zM1209.18 532.83h2.3v1h-2.3zM1211.93 536h2.8v1h-2.8zM1214.93 528.33h2.8v22h-2.8zM1217.93 546.33h2.8v16.17h-2.8zM1220.93 553.33h2.8v1.67h-2.8zM1223.93 543.33h2.8v20.83h-2.8zM1226.93 529.5h2.8v8h-2.8zM1229.93 513.33h2.8v1h-2.8zM1233.18 497h2.3v1h-2.3zM1235.93 481.33h2.8v7h-2.8zM1238.27 468.33h2.8v3h-2.8zM1241.27 460.33h2.8v9.67h-2.8zM1243.93 449.5h2.8v10.5h-2.8zM1246.93 444.17h2.8v2.17h-2.8zM1250.04 453.11h2.8v10.56h-2.8zM1253.29 465.83h2.3v1h-2.3zM1256.29 468.06h2.3v1h-2.3z" fill="#000"/><path d="M88.68 650.13h1.3v14.73h-1.3zM106.68 606.13h1.3v11.73h-1.3zM118.68 560.97h1.3v9.9h-1.3zM127.85 570.97h1.3v6.98h-1.3zM133.85 555.13h1.3v13.65h-1.3zM148.68 503.8h1.3v2.9h-1.3zM163.85 557.47h1.3v5.48h-1.3zM166.85 546.22h1.3v5.48h-1.3zM186.68 458.3h1.3v14.57h-1.3zM198.68 456.13h1.3v9.4h-1.3zM213.68 463.3h1.3v4.57h-1.3zM219.68 456.13h1.3v11.4h-1.3zM228.68 439.47h1.3v10.07h-1.3zM234.68 409.13h1.3v4.73h-1.3zM240.68 395.8h1.3v20.9h-1.3zM246.68 377.13h1.3v7.4h-1.3zM258.68 322.97h1.3v8.73h-1.3zM270.68 273.8h1.3v2.9h-1.3zM290.68 284.13h1.3v21.73h-1.3zM311.68 224.13h1.3v1.73h-1.3zM356.68 164.97h1.3v13.73h-1.3zM371.68 184.97h1.3v31.73h-1.3zM377.68 167.13h1.3v5.4h-1.3zM380.68 152.13h1.3v9.57h-1.3zM412.68 173.3h1.3v23.4h-1.3zM484.68 286.13h1.3v4.73h-1.3zM487.68 274.13h1.3v5.4h-1.3zM504.68 279.97h1.3v15.07h-1.3zM516.68 314.47h1.3v6.07h-1.3zM525.68 302.13h1.3v20.4h-1.3zM528.68 288.3h1.3v3.4h-1.3zM552.68 325.47h1.3v8.4h-1.3zM558.68 309.13h1.3v19.23h-1.3zM567.68 310.3h1.3v27.23h-1.3zM597.68 354.97h1.3v15.57h-1.3zM611.68 328.3h1.3v19.23h-1.3zM629.68 368.8h1.3v3.4h-1.3zM629.68 369.13h1.3v3.4h-1.3zM638.68 339.13h1.3v6.73h-1.3zM706.68 374.13h1.3v2.57h-1.3zM709.68 354.13h1.3v12.57h-1.3zM715.68 319.13h1.3v10.9h-1.3zM900.68 381.13h1.3v32.23h-1.3zM909.68 371.63h1.3v15.57h-1.3zM921.35 332.47h1.3v10.9h-1.3zM945.02 346.3h1.3v7.57h-1.3zM960.02 380.47h1.3v1.23h-1.3zM969.02 359.13h1.3v7.07h-1.3zM984.02 391.63h1.3v11.73h-1.3zM993.02 384.97h1.3v7.57h-1.3zM1002.02 394.97h1.3v8.4h-1.3zM1005.02 377.13h1.3v13.73h-1.3zM1020.02 384.47h1.3v1.07h-1.3zM1031.02 425.47h1.3v5.4h-1.3zM1052.02 494.47h1.3v1.4h-1.3zM1061.02 506.13h1.3v4.73h-1.3zM1064.02 497.13h1.3v3.73h-1.3zM1097.02 509.13h1.3v15.4h-1.3zM1112.02 541.13h1.3v10.57h-1.3zM1124.02 506.13h1.3v2.23h-1.3zM1132.02 477.47h1.3v8.73h-1.3zM1132.02 477.47h1.3v9.23h-1.3zM1143.68 483.3h1.3v9.23h-1.3zM1162.02 492.13h1.3v3.4h-1.3zM1203.68 513.8h1.3v11.73h-1.3zM1224.68 544.13h1.3v19.23h-1.3zM1227.68 530.3h1.3v6.4h-1.3zM1242.02 461.13h1.3v8.07h-1.3zM1244.68 450.3h1.3v8.9h-1.3z" fill="#fff"/><path d="M1538.5 309.5L1525.5 325.3L1547.5 309.5z" fill="#fff" stroke="#000" stroke-width="2" stroke-linejoin="miter"/><rect x="1535.5" y="291" width="49.5" height="19.5" rx="3.5" fill="#fff" stroke="#000" stroke-width="2"/><path d="M1540 309L1527.7 324.8L1546 309z" fill="#fff"/><rect x="1524" y="323.8" width="3" height="3" fill="#000"/><text x="1560.25" y="304.35" text-anchor="middle" font-size="10" font-weight="bold" fill="#000" letter-spacing="0.35">66000</text><path d="M1538.5 376.5L1525.5 392.4L1547.5 376.5z" fill="#fff" stroke="#000" stroke-width="2" stroke-linejoin="miter"/><rect x="1535.5" y="358" width="49.5" height="19.5" rx="3.5" fill="#fff" stroke="#000" stroke-width="2"/><path d="M1540 376L1527.7 391.9L1546 376z" fill="#fff"/><rect x="1524" y="390.9" width="3" height="3" fill="#000"/><text x="1560.25" y="371.35" text-anchor="middle" font-size="10" font-weight="bold" fill="#000" letter-spacing="0.35">54000</text><path d="M1538.5 530.5L1525.5 546.2L1547.5 530.5z" fill="#fff" stroke="#000" stroke-width="2" stroke-linejoin="miter"/><rect x="1535.5" y="512" width="49.5" height="19.5" rx="3.5" fill="#fff" stroke="#000" stroke-width="2"/><path d="M1540 530L1527.7 545.7L1546 530z" fill="#fff"/><rect x="1524" y="544.7" width="3" height="3" fill="#000"/><text x="1560.25" y="525.35" text-anchor="middle" font-size="10" font-weight="bold" fill="#000" letter-spacing="0.35">34000</text><rect x="56" y="875.5" width="1800.5" height="83" fill="#800080" fill-opacity="0.09"/><path d="M56 875.5H1856.5M56 958.5H1856.5" stroke="#6b6b6b" stroke-width="1" stroke-dasharray="6 5" fill="none"/><polyline points="57.09,879.84 62.56,872.19 69.12,864.53 72.41,858.62 76.78,853.59 82.25,847.03 86.62,844.84 89.91,837.62 93.19,835 95.38,835 99.75,831.72 105.22,829.09 108.5,826.69 113.97,824.5 119.44,821.88 120.97,843.75 122.28,865.62 125.56,868.47 128.62,860.16 131.47,862.34 134.31,855.78 139.12,849.66 143.5,843.31 146.78,848.12 149.62,843.31 152.25,865.62 155.53,877.66 158.81,891.88 162.09,903.47 164.72,903.25 168.66,894.5 174.12,882.69 178.5,874.38 181.78,865.19 183.97,863.44 187.25,854.69 190.31,850.75 193.38,865.62 196.66,880.94 200.38,873.94 205.41,866.28 208.47,886.41 211.31,896.91 213.94,894.06 217.88,901.72 221.16,890.78 223.78,885.97 226.62,902.16 229.91,889.69 235.38,875.47 238.66,886.84 241.5,877 245.22,873.94 248.5,866.72 252.88,859.5 256.16,855.34 259.44,851.84 262.72,850.75 265.56,850.31 268.19,843.31 271.47,839.38 274.09,838.28 277.38,843.31 280.22,841.56 282.41,845.94 285.25,859.06 288.53,882.69 291.16,878.75 294,875.91 298.81,865.62 303.19,856.88 306.47,854.69 309.75,854.25 313.03,851.41 315.44,847.03 318.5,867.38 321.12,861.25 323.97,882.03 327.47,898.88 332.72,884.22 338.19,871.75 342.34,863.44 345.62,877.66 351.31,864.97 353.94,882.69 357.22,879.84 360.5,904.34 363.34,903.25 366.62,905.44 369.69,908.28 372.31,898.88 375.38,898.44 379.09,888.16 384.12,876.12 387.41,870.44 389.59,887.06 392.88,895.16 395.72,898.44 400.53,901.06 403.81,906.09 407.09,918.12 410.38,918.56 413.66,911.56 416.5,915.94 420.22,929.06 425.69,944.81 430.06,947 436.62,947.66 445.38,949.19 451.94,949.41 457.41,949.41 459.16,952.03 460,957.5 461.75,965.81 464.59,945.47 470.28,946.12 473.12,958.59 476.41,968 479.69,969.53 482.97,973.47 485.59,974.34 488.44,955.97 491.5,966.69 494.34,936.28 496.75,948.31 499.38,951.38 502.66,953.56 505.5,937.38 508.56,947.66 511.41,952.47 514.69,958.59 517.53,949.41 520.59,950.28 523.44,951.38 526.72,936.72 529.56,925.34 532.62,915.28 535.69,927.31 538.31,929.5 541.38,937.38 544.66,944.38 547.5,947 550.56,952.47 553.62,938.47 556.25,940 559.53,925.78 562.81,930.81 565.66,935.62 568.72,924.03 571.78,931.25 574.84,934.53 577.69,941.75 580.53,948.75 583.59,936.72 586.44,926.44 589.5,934.53 592.56,939.56 595.62,944.38 598.47,935.62 601.09,923.59 603.72,915.5 607,919.22 609.62,922.06 612.69,915.94 615.53,908.28 618.59,919.22 621.44,922.5 624.5,930.59 627.34,935.19 630.62,939.34 633.91,932.34 636.75,925.78 639.59,918.56 642.66,925.12 645.5,927.97 648.56,928.41 652.5,929.72 656.88,931.25 665.62,931.47 670,932.34 678.75,932.56 681.38,933.22 694.06,933.22 696.69,934.53 699.53,942.19 702.81,951.38 705.44,953.12 707.62,948.75 710.47,907.19 713.31,887.5 716.38,870.44 719.44,888.16 722.06,888.59 725.12,894.06 727.97,894.5 731.25,895.38 734.53,895.81 738.91,898.44 742.62,900.19 749.19,900.62 753.12,903.47 755.75,904.34 761.88,904.56 764.72,914.19 773.91,914.19 776.75,915.5 779.81,919.22 785.5,919.44 787.03,935.62 788.56,950.5 791.41,952.25 803.44,952.47 804.97,960.78 806.72,968.44 812.19,968.44 814.38,969.31 820.5,969.53 822.03,981.56 823.56,993.16 825.31,953.12 826.84,935.62 838.44,935.62 840.62,936.28 847.19,936.72 850.47,937.38 853.75,937.59 855.06,957.5 856.38,972.81 859.22,984.41 860,984.84 863.28,984.84 867.66,986.59 870.94,988.34 875.31,988.78 878.59,989.44 881.88,989.88 884.5,992.06 886.69,994.69 889.53,995.34 896.09,995.56 898.5,996.44 899.81,953.12 901.56,903.91 904.62,899.53 907.47,910.47 910.75,892.97 913.59,882.03 916.44,870 919.06,868.91 921.47,858.62 924.53,880.94 927.59,873.72 930.44,886.41 933.5,903.91 936.56,918.78 939.19,917.69 942.25,913.75 945.31,897.34 948.38,900.62 951.44,914.84 954.5,927.97 957.56,937.81 960.62,929.06 963.69,923.59 966.53,919.88 969.59,908.28 972.66,921.41 975.5,933 978.56,938.91 981.62,944.38 984.69,929.5 987.53,927.97 990.59,934.53 993.66,922.5 996.72,933.44 999.56,933.88 1002.41,926.88 1005.47,914.84 1008.53,904.56 1011.59,914.84 1014.66,924.69 1017.5,918.56 1020.78,918.56 1023.62,923.59 1026.25,931.25 1028.88,941.75 1031.72,943.94 1034.34,945.91 1037.19,954.88 1040.25,959.25 1043.31,964.72 1046.38,968.88 1049.44,970.62 1052.5,967.56 1055.34,969.53 1058.62,973.47 1061.69,965.16 1064.75,956.41 1067.81,946.56 1073.28,946.56 1076.56,953.12 1079.62,957.5 1082.47,959.25 1085.75,964.5 1088.81,966.25 1091.66,959.25 1094.5,960.34 1097.56,941.53 1100.62,944.38 1103.69,950.94 1106.75,956.41 1109.59,962.31 1112.66,951.38 1115.5,940 1118.56,928.62 1121.62,927.97 1124.69,921.41 1127.75,913.31 1130.59,910.47 1132.78,900.62 1135.62,900.62 1138.47,904.56 1141.75,918.78 1144.38,907.19 1147.44,923.16 1150.5,923.81 1153.56,933.22 1156.62,930.59 1159.69,925.12 1162.75,911.56 1165.59,900.62 1168.66,890.12 1171.72,906.53 1174.78,913.75 1177.84,919.22 1180.91,922.5 1183.75,922.06 1186.38,920.31 1189.44,922.06 1192.5,918.56 1195.56,924.25 1198.62,926.88 1201.69,936.28 1204.53,931.91 1207.59,943.28 1210.66,945.69 1213.72,948.31 1216.56,955.75 1219.41,960.34 1222.47,952.03 1225.53,940 1228.59,926.88 1231.66,913.75 1234.5,902.81 1237.56,894.06 1239.97,884.22 1242.81,877.66 1245.44,873.72 1248.5,871.53 1251.56,890.78 1254.41,894.06 1257.69,896.47" fill="none" stroke="#9a2a9a" stroke-opacity="0.85" stroke-width="1" stroke-linejoin="round"/><path d="M883.6 999.5L1248.8 950.5M1244 946.4L1249 950.5L1244.6 955.4" stroke="#1c1cff" stroke-width="1.2" fill="none"/><path d="M56 799.5H1920M56 1014.5H1920" stroke="#50535e" stroke-width="1"/><path d="M1857.5 39V1041" stroke="#50535e" stroke-width="1"/><path d="M1858 50.5h4M1858 99.5h4M1858 139.5h4M1858 176.5h4M1858 217.5h4M1858 248.5h4M1858 282.5h4M1858 317.5h4M1858 356.5h4M1858 392.5h4M1858 431.5h4M1858 477.5h4M1858 509.5h4M1858 546.5h4M1858 577.5h4M1858 611.5h4M1858 643.5h4M1858 676.5h4M1858 706.5h4M1858 739.5h4M1858 772.5h4M1858 814.5h4M1858 854.5h4M1858 897.5h4M1858 937.5h4M1858 980.5h4" stroke="#50535e" stroke-width="1"/><g font-size="11.5" fill="#4a4d57"><text x="1866.5" y="54" textLength="35.4" lengthAdjust="spacingAndGlyphs">150000</text><text x="1866.5" y="103" textLength="35.4" lengthAdjust="spacingAndGlyphs">130000</text><text x="1866.5" y="143.5" textLength="35.4" lengthAdjust="spacingAndGlyphs">115000</text><text x="1866.5" y="180.5" textLength="35.4" lengthAdjust="spacingAndGlyphs">103000</text><text x="1866.5" y="221.5" textLength="29.5" lengthAdjust="spacingAndGlyphs">91000</text><text x="1866.5" y="252.5" textLength="29.5" lengthAdjust="spacingAndGlyphs">83000</text><text x="1866.5" y="286.5" textLength="29.5" lengthAdjust="spacingAndGlyphs">75000</text><text x="1866.5" y="321.5" textLength="29.5" lengthAdjust="spacingAndGlyphs">67500</text><text x="1866.5" y="360.5" textLength="29.5" lengthAdjust="spacingAndGlyphs">60000</text><text x="1866.5" y="396.5" textLength="29.5" lengthAdjust="spacingAndGlyphs">54000</text><text x="1866.5" y="435.5" textLength="29.5" lengthAdjust="spacingAndGlyphs">48000</text><text x="1866.5" y="481.5" textLength="29.5" lengthAdjust="spacingAndGlyphs">42000</text><text x="1866.5" y="513.5" textLength="29.5" lengthAdjust="spacingAndGlyphs">38000</text><text x="1866.5" y="550.5" textLength="29.5" lengthAdjust="spacingAndGlyphs">34000</text><text x="1866.5" y="581.5" textLength="29.5" lengthAdjust="spacingAndGlyphs">31000</text><text x="1866.5" y="615.5" textLength="29.5" lengthAdjust="spacingAndGlyphs">28000</text><text x="1866.5" y="647.5" textLength="29.5" lengthAdjust="spacingAndGlyphs">25500</text><text x="1866.5" y="680.5" textLength="29.5" lengthAdjust="spacingAndGlyphs">23100</text><text x="1866.5" y="710.5" textLength="29.5" lengthAdjust="spacingAndGlyphs">21100</text><text x="1866.5" y="743.5" textLength="29.5" lengthAdjust="spacingAndGlyphs">19100</text><text x="1866.5" y="776.5" textLength="29.5" lengthAdjust="spacingAndGlyphs">17300</text><text x="1866.5" y="818" textLength="44.4" lengthAdjust="spacingAndGlyphs">100.0000</text><text x="1866.5" y="858.5" textLength="38.85" lengthAdjust="spacingAndGlyphs">80.0000</text><text x="1866.5" y="901" textLength="38.85" lengthAdjust="spacingAndGlyphs">60.0000</text><text x="1866.5" y="941.6" textLength="38.85" lengthAdjust="spacingAndGlyphs">40.0000</text><text x="1866.5" y="984" textLength="38.85" lengthAdjust="spacingAndGlyphs">20.0000</text></g><rect x="1856.5" y="458.5" width="64" height="18" fill="#fff"/><path d="M1857.5 467.5h4.5" stroke="#000" stroke-width="1"/><text x="1866.5" y="471.5" font-size="11.5" fill="#000" textLength="29.5" lengthAdjust="spacingAndGlyphs">43000</text><path d="M114.3 1015v4M224.3 1015v4M340 1015v4M462.3 1015v4M581.5 1015v4M676 1015v4M783.3 1015v4M899.3 1015v4M1006 1015v4M1125.7 1015v4M1243.5 1015v4M1371 1015v4M1499 1015v4M1630 1015v4M1764 1015v4" stroke="#50535e" stroke-width="1"/><g font-size="11.5" fill="#4a4d57"><text x="114.3" y="1033.5" text-anchor="middle">May</text><text x="224.3" y="1033.5" text-anchor="middle">Jul</text><text x="340" y="1033.5" text-anchor="middle">Sep</text><text x="462.3" y="1033.5" text-anchor="middle">Nov</text><text x="581.5" y="1033.5" text-anchor="middle" font-weight="bold" fill="#33363f">2021</text><text x="676" y="1033.5" text-anchor="middle">Mar</text><text x="783.3" y="1033.5" text-anchor="middle">May</text><text x="899.3" y="1033.5" text-anchor="middle">Jul</text><text x="1006" y="1033.5" text-anchor="middle">Sep</text><text x="1125.7" y="1033.5" text-anchor="middle">Nov</text><text x="1243.5" y="1033.5" text-anchor="middle" font-weight="bold" fill="#33363f">2022</text><text x="1371" y="1033.5" text-anchor="middle">Mar</text><text x="1499" y="1033.5" text-anchor="middle">May</text><text x="1630" y="1033.5" text-anchor="middle">Jul</text><text x="1764" y="1033.5" text-anchor="middle">Sep</text></g></g>
<g id="ui"><rect x="56" y="0" width="1864" height="38" fill="#fff"/><path d="M56 38.5H1920" stroke="#e0e3eb" stroke-width="1"/><path d="M93.5 0V38M178.5 0V38M279.5 0V38M387.5 0V38M497.5 0V38M560.5 0V38M598.5 0V38M871.5 0V38M1004.5 0V38M1042.5 0V38M1764.5 0V38M1803.5 0V38M1841.5 0V38M1879.5 0V38" stroke="#e0e3eb" stroke-width="1"/><text x="69.8" y="23" font-size="13.5" fill="#131722" stroke="#131722" stroke-width="0.45">D</text><g fill="none" stroke="#2196f3" stroke-width="1"><rect x="105.6" y="12.5" width="3.8" height="12.4"/><path d="M107.5 9v3.5M107.5 24.9v3.9"/><rect x="113.7" y="15.6" width="3.8" height="6.8"/><path d="M115.6 12.3v3.3M115.6 22.4v3.5"/></g><g fill="none" stroke="#131722" stroke-width="1"><rect x="135.6" y="12.5" width="3.8" height="12.8"/><path d="M137.5 9v3.5"/><rect x="143.7" y="10.5" width="3.8" height="6.8"/><path d="M145.6 7.3v3.2"/></g><path d="M164.4 17.2l3.7 3.4 3.7-3.4" fill="none" stroke="#131722" stroke-width="1"/><g fill="none" stroke="#131722" stroke-width="1"><circle cx="197.5" cy="19.4" r="9"/><path d="M197.5 14.9v9M193 19.4h9"/></g><g font-size="14" fill="#131722" stroke="#131722" stroke-width="0.25"><text x="214.3" y="23.2" textLength="55.2" lengthAdjust="spacingAndGlyphs">Compare</text><text x="315.9" y="23.2" textLength="61" lengthAdjust="spacingAndGlyphs">Indicators</text><text x="423" y="23.2" textLength="64" lengthAdjust="spacingAndGlyphs">Templates</text></g><g fill="none" stroke="#131722" stroke-width="1"><path d="M288.5 18.8L292.4 14.2Q294 12.6 295.6 14.2L299 17.6Q300.6 19.2 302.2 17.6L306.5 13.4"/><path d="M305.4 21.2v8.8M301 25.6h8.8"/></g><g fill="none" stroke="#131722" stroke-width="1"><path d="M397.2 15.6L401 11.4Q402.4 10 403.8 11.2L408 14.6Q409.4 15.6 410.8 14.2L415.6 9.6"/><path d="M397.2 20.6L401 16.4Q402.4 15 403.8 16.2L408 19.6Q409.4 20.6 410.8 19.2L415.6 14.6"/><path d="M400.5 25.8v3M403.5 23.2v5.600000000000001M406.5 25.200000000000003v3.6M413.5 21.2v8.8M409.1 25.5h8.8"/><path d="M396.9 28.3h1" /></g><path d="M512.5 14.4L508.3 18.1L512.5 21.9M508.6 18.1H516Q520.6 18.1 520.6 23.8" fill="none" stroke="#131722" stroke-width="1"/><path d="M544.5 14.4L548.7 18.1L544.5 21.9M548.4 18.1H541Q536.4 18.1 536.4 23.8" fill="none" stroke="#c5c8d0" stroke-width="1"/><path d="M570 9.4h5.2l-5.2 5.2zM571.6 12.2l1.2 -1.2l3.4 3.4l-1.2 1.2zM587.8 9.4h-5.2l5.2 5.2zM586.1999999999999 12.2l-1.2 -1.2l-3.4 3.4l1.2 1.2zM570 26.9h5.2l-5.2 -5.2zM571.6 24.099999999999998l1.2 1.2l3.4 -3.4l-1.2 -1.2zM587.8 26.9h-5.2l5.2 -5.2zM586.1999999999999 24.099999999999998l-1.2 1.2l-3.4 -3.4l1.2 -1.2z" fill="#434651"/><rect x="609.5" y="4.5" width="251" height="29" fill="#fff" stroke="#c9c9c9" stroke-width="1"/><rect x="882.5" y="4.5" width="111" height="29" fill="#fff" stroke="#c9c9c9" stroke-width="1"/><path d="M617.5 16.5l7 7.2 7-7.2M891 16.5l6.6 7.2 6.6-7.2" fill="none" stroke="#131722" stroke-width="1.35"/><text x="783.6" y="22.6" text-anchor="middle" font-size="11" font-weight="bold" fill="#131722" font-family="&quot;Liberation Sans&quot;,&quot;DejaVu Sans&quot;,sans-serif">سود نقدی و افزایش سرمایه</text><text x="955.2" y="22.6" text-anchor="middle" font-size="11" font-weight="bold" fill="#131722" font-family="&quot;Liberation Sans&quot;,&quot;DejaVu Sans&quot;,sans-serif">آخرین قیمت</text><g fill="none" stroke="#131722" stroke-width="1"><path d="M1011.8 18.6c4-5.2 7.6-6.6 11.600000000000001-6.6s7.6 1.4 11.6 6.6c-4 5.2-7.6 6.6-11.6 6.6s-7.6-1.4-11.600000000000001-6.6z"/><circle cx="1023.4" cy="18.6" r="3.4"/></g><path d="M1782.9 9.6 L1784.7 9.6 L1785.9 12.3 L1787.2 12.9 L1789.9 11.8 L1791.2 13.1 L1790.1 15.8 L1790.7 17.1 L1793.4 18.3 L1793.4 20.1 L1790.7 21.3 L1790.1 22.6 L1791.2 25.3 L1789.9 26.6 L1787.2 25.5 L1785.9 26.1 L1784.7 28.8 L1782.9 28.8 L1781.7 26.1 L1780.4 25.5 L1777.7 26.6 L1776.4 25.3 L1777.5 22.6 L1776.9 21.3 L1774.2 20.1 L1774.2 18.3 L1776.9 17.1 L1777.5 15.8 L1776.4 13.1 L1777.7 11.8 L1780.4 12.9 L1781.7 12.3 z" fill="none" stroke="#131722" stroke-width="1" stroke-linejoin="round"/><circle cx="1783.8" cy="19.2" r="2.6" fill="none" stroke="#131722" stroke-width="1"/><g fill="none" stroke="#131722" stroke-width="1"><circle cx="1830.6" cy="12.8" r="2.8"/><circle cx="1819.4" cy="19" r="2.8"/><circle cx="1830.6" cy="25.2" r="2.8"/><path d="M1821.9 17.600000000000001L1828.1 14.2M1821.9 20.4L1828.1 23.8"/></g><g fill="none" stroke="#131722" stroke-width="1" stroke-linejoin="round"><path d="M1854.4 25.6l1.4-11.8 12-1 4 1.2 0.6 11.4-6 1.2z" fill="#fff"/><path d="M1856 13.8l0.4 12 12.2 0.6-0.6-12.8z" fill="#fff"/><path d="M1867 12.8q1-2.4 2.4-0.600000000000000001q0.6 1.2 0.2 2.2"/></g><path d="M1894.4 12h12.8v1.8h-12.8zM1898.4 10.2h4.8v1.4h-4.8zM1895.4 14.8h10.8v9.8q0 1.2-1.2 1.2h-8.4q-1.2 0-1.2-1.2z" fill="#434651"/><text x="101.9" y="59.6" text-anchor="middle" font-size="15" font-weight="bold" fill="#131722" font-family="&quot;Liberation Sans&quot;,&quot;DejaVu Sans&quot;,sans-serif">قند نیشابور</text><text x="224.2" y="59.6" text-anchor="middle" font-size="15" font-weight="bold" fill="#131722" font-family="&quot;Liberation Sans&quot;,&quot;DejaVu Sans&quot;,sans-serif">بورس تهران</text><rect x="146" y="51.6" width="1.6" height="1.6" fill="#9a9da6"/><rect x="177.4" y="51.6" width="1.6" height="1.6" fill="#9a9da6"/><text x="152.8" y="59.4" font-size="15.5" fill="#131722" textLength="18.2" lengthAdjust="spacingAndGlyphs">1D</text><g font-size="12" fill="#131722"><text x="272.6" y="58.6" fill="#555">O</text><text x="283.3" y="58.6" stroke="#131722" stroke-width="0.2">43000</text><text x="324.6" y="58.6" fill="#555">H</text><text x="333.4" y="58.6" stroke="#131722" stroke-width="0.2">43000</text><text x="375.8" y="58.6" fill="#555">L</text><text x="382.6" y="58.6" stroke="#131722" stroke-width="0.2">43000</text><text x="424.8" y="58.6" fill="#555">C</text><text x="433.2" y="58.6" stroke="#131722" stroke-width="0.2">43000</text><text x="475" y="58.6" stroke="#131722" stroke-width="0.2" textLength="89" lengthAdjust="spacingAndGlyphs">−290 (−0.67%)</text></g><rect x="64.5" y="71.5" width="20" height="20" rx="3" fill="#fff" stroke="#d5d8df" stroke-width="1"/><path d="M71.3 80.5l3.2 3 3.2-3" fill="none" stroke="#131722" stroke-width="1.3"/><g font-size="13" fill="#131722"><text x="92.2" y="83.8">Volume</text><text x="138" y="83.8" fill="#555">20</text><text x="162.6" y="83.8" fill="#4caf7d">37.667K</text><text x="216.2" y="83.8" fill="#2196f3">961.876K</text></g><rect x="64.5" y="806.5" width="20" height="20" rx="3" fill="#fff" stroke="#d5d8df" stroke-width="1"/><path d="M71.3 815.5l3.2 3 3.2-3" fill="none" stroke="#131722" stroke-width="1.3"/><g font-size="13" fill="#131722"><text x="92.2" y="818.8">RSI</text><text x="117" y="818.8" fill="#555">14</text><text x="139.5" y="818.8" fill="#800080">59.8784</text></g><circle cx="80.4" cy="983.8" r="16.6" fill="#fff" stroke="#e6e6e6" stroke-width="1"/><path d="M72.6 989.8a3.2 3.2 0 0 1-0.6-6.300000000000001a3.400000000000000000 3.400000000000000000 0 0 1 3.2-1.6a4.4 4.4 0 0 1 8.2-1.2a4.2 4.2 0 0 1 6.2 3.2a3 3 0 0 1-0.8 5.9z" fill="#2f9ee8"/><path d="M70.4 987.8l7.8-6.6 4.700000000000000000 5.7 5.1-5.3" fill="none" stroke="#fff" stroke-width="1.1" stroke-linejoin="round"/><circle cx="82.9" cy="987" r="1.1" fill="#fff"/><text x="1141.2" y="124.3" text-anchor="middle" font-size="20" font-weight="bold" fill="#000" font-family="&quot;Liberation Sans&quot;,&quot;DejaVu Sans&quot;,sans-serif">انجمن خبرگان بورس تهران</text><text x="1029.3" y="150.3" font-size="25.6" font-weight="bold" fill="#000" stroke="#000" stroke-width="0.35" textLength="286.5" lengthAdjust="spacingAndGlyphs">amoozesh-boors.com</text><rect x="56" y="1042" width="1864" height="38" fill="#fff"/><path d="M56 1041.5H1920" stroke="#e0e3eb" stroke-width="1"/><g font-size="14" fill="#131722" stroke="#131722" stroke-width="0.2"><text x="72.5" y="1065">5y</text><text x="101" y="1065">1y</text><text x="129.2" y="1065">6m</text><text x="163.2" y="1065">1m</text><text x="196.6" y="1065">5d</text><text x="226" y="1065">1d</text><text x="274" y="1065" textLength="47.5" lengthAdjust="spacingAndGlyphs">Go to...</text></g><path d="M257.5 1050V1072M1804.5 1050V1072" stroke="#e0e3eb" stroke-width="1"/><text x="1748.7" y="1065" text-anchor="end" font-size="14" fill="#131722" font-family="&quot;Liberation Sans&quot;,&quot;DejaVu Sans&quot;,sans-serif">۱۰:۱۳</text><text x="1753.79140625" y="1065" font-size="14" fill="#131722" stroke="#131722" stroke-width="0.2" textLength="35.5" lengthAdjust="spacingAndGlyphs">(UTC)</text><text x="1821.5" y="1065" font-size="14" fill="#131722">%</text><text x="1849.2" y="1065" font-size="14" fill="#2196f3">log</text><text x="1881.6" y="1065" font-size="14" fill="#2196f3">auto</text><g fill="none" stroke="#131722" stroke-width="1"><circle cx="1888.3" cy="1029" r="4.6"/><path d="M1888.3 1022v2M1888.3 1034v2M1881.3 1029h2M1893.3 1029h2M1883.4 1024.1l1.4 1.4M1891.8 1032.5l1.4 1.4M1883.4 1033.9l1.4-1.4M1891.8 1025.5l1.4-1.4"/></g><rect x="629.5" y="1040.5" width="560" height="46" rx="4" fill="#fff" stroke="#e0e3eb" stroke-width="1"/><path d="M629.5 1045v35" stroke="#e8eaef" stroke-width="1"/><path d="M643.5 1041V1080M682.5 1041V1080M721.5 1041V1080M760.5 1041V1080M799.5 1041V1080M838.5 1041V1080M877.5 1041V1080M916.5 1041V1080M955.5 1041V1080M994.5 1041V1080M1033.5 1041V1080M1072.5 1041V1080M1111.5 1041V1080M1150.5 1041V1080" stroke="#e8eaef" stroke-width="1"/><rect x="634.2" y="1054" width="1.6" height="1.6" fill="#d1d4dc"/><rect x="638" y="1054" width="1.6" height="1.6" fill="#d1d4dc"/><rect x="634.2" y="1058.5" width="1.6" height="1.6" fill="#d1d4dc"/><rect x="638" y="1058.5" width="1.6" height="1.6" fill="#d1d4dc"/><rect x="634.2" y="1063" width="1.6" height="1.6" fill="#d1d4dc"/><rect x="638" y="1063" width="1.6" height="1.6" fill="#d1d4dc"/><rect x="634.2" y="1067.5" width="1.6" height="1.6" fill="#d1d4dc"/><rect x="638" y="1067.5" width="1.6" height="1.6" fill="#d1d4dc"/><path d="M652.0 1051.0h20M652.0 1057.0h20M654.5 1068.5h21" fill="none" stroke="#2a2e39" stroke-width="1"/><circle cx="674.0" cy="1057.0" r="1.9" fill="none" stroke="#2a2e39" stroke-width="1"/><circle cx="652.5" cy="1068.5" r="1.9" fill="none" stroke="#2a2e39" stroke-width="1"/><path d="M652.0 1063.0h22" fill="none" stroke="#2a2e39" stroke-width="1"/><circle cx="693.0" cy="1051.3" r="1.9" fill="none" stroke="#2a2e39" stroke-width="1"/><circle cx="693.0" cy="1068.8" r="1.9" fill="none" stroke="#2a2e39" stroke-width="1"/><circle cx="711.0" cy="1051.3" r="1.9" fill="none" stroke="#2a2e39" stroke-width="1"/><circle cx="711.0" cy="1068.8" r="1.9" fill="none" stroke="#2a2e39" stroke-width="1"/><path d="M695.0 1051.3h14M695.0 1068.8h14M693.0 1053.3v13.5M711.0 1053.3v13.5" fill="none" stroke="#2a2e39" stroke-width="1"/><circle cx="731.0" cy="1055.0" r="1.9" fill="none" stroke="#2a2e39" stroke-width="1"/><circle cx="745.5" cy="1050.0" r="1.9" fill="none" stroke="#2a2e39" stroke-width="1"/><circle cx="731.0" cy="1062.5" r="1.9" fill="none" stroke="#2a2e39" stroke-width="1"/><path d="M732.8 1054.3L743.8 1050.5M733.0 1062.5h20M731.0 1066.5h22M731.0 1070.5h22" fill="none" stroke="#2a2e39" stroke-width="1"/><circle cx="771.0" cy="1068.5" r="1.9" fill="none" stroke="#2a2e39" stroke-width="1"/><circle cx="788.5" cy="1051.5" r="1.9" fill="none" stroke="#2a2e39" stroke-width="1"/><path d="M772.4 1067.1L787.1 1052.9" fill="none" stroke="#2a2e39" stroke-width="1"/><path d="M812.0 1054.0v-2.5h14v2.5M819.0 1051.5v17M816.2 1068.5h5.600000000000001" fill="none" stroke="#2a2e39" stroke-width="1"/><circle cx="850.3" cy="1068.5" r="1.9" fill="none" stroke="#2a2e39" stroke-width="1"/><path d="M850.7 1066.6V1050.7H868.7V1063.3H856.5L851.7 1067.4" fill="none" stroke="#2a2e39" stroke-width="1"/><circle cx="897.0" cy="1060.5" r="1.9" fill="none" stroke="#2a2e39" stroke-width="1"/><path d="M887.0 1060.5h8.1M898.9 1060.5h8.1" fill="none" stroke="#2a2e39" stroke-width="1"/><circle cx="936.0" cy="1060.5" r="1.9" fill="none" stroke="#2a2e39" stroke-width="1"/><path d="M925.5 1060.5h8.6M937.9 1060.5h8.6M936.0 1050.0v8.6M936.0 1062.4v8.6" fill="none" stroke="#2a2e39" stroke-width="1"/><circle cx="980.0" cy="1052.0" r="1.9" fill="none" stroke="#2a2e39" stroke-width="1"/><circle cx="967.0" cy="1065.5" r="1.9" fill="none" stroke="#2a2e39" stroke-width="1"/><circle cx="979.0" cy="1063.0" r="1.9" fill="none" stroke="#2a2e39" stroke-width="1"/><path d="M968.4 1064.1L978.6 1053.4M972.0 1070.5L977.6 1064.4M980.4 1061.6L985.0 1057.0" fill="none" stroke="#2a2e39" stroke-width="1"/><circle cx="1007.0" cy="1052.5" r="1.9" fill="none" stroke="#2a2e39" stroke-width="1"/><circle cx="1007.0" cy="1068.5" r="1.9" fill="none" stroke="#2a2e39" stroke-width="1"/><circle cx="1021.5" cy="1068.5" r="1.9" fill="none" stroke="#2a2e39" stroke-width="1"/><path d="M1007.0 1054.4v12.2M1008.9 1068.5h10.7M1008.2 1054.0L1020.3 1067.0" fill="none" stroke="#2a2e39" stroke-width="1"/><circle cx="1043.0" cy="1051.5" r="1.9" fill="none" stroke="#2a2e39" stroke-width="1"/><circle cx="1043.0" cy="1062.5" r="1.9" fill="none" stroke="#2a2e39" stroke-width="1"/><circle cx="1063.0" cy="1062.5" r="1.9" fill="none" stroke="#2a2e39" stroke-width="1"/><circle cx="1043.0" cy="1069.5" r="1.9" fill="none" stroke="#2a2e39" stroke-width="1"/><path d="M1044.9 1051.5h18M1044.9 1062.5h16.2M1044.9 1069.5h18M1053.0 1055.0v12M1051.0 1056.9l2-2.2 2 2.2M1051.0 1065.1l2 2.2 2-2.2" fill="none" stroke="#2a2e39" stroke-width="1"/><circle cx="1082.5" cy="1069.5" r="1.9" fill="none" stroke="#2a2e39" stroke-width="1"/><circle cx="1101.5" cy="1050.5" r="1.9" fill="none" stroke="#2a2e39" stroke-width="1"/><path d="M1082.5 1067.6V1051.5H1099.6M1101.5 1052.4V1069.5H1084.4M1092.0 1054.5v14M1086.0 1060.5h13M1090.0 1056.5l2-2.2 2 2.2M1097.0 1058.5l2.2 2-2.2 2" fill="none" stroke="#2a2e39" stroke-width="1"/><circle cx="1122.0" cy="1068.5" r="1.9" fill="none" stroke="#2a2e39" stroke-width="1"/><circle cx="1139.5" cy="1051.5" r="1.9" fill="none" stroke="#2a2e39" stroke-width="1"/><path d="M1123.4 1067.1L1138.1 1052.9" fill="none" stroke="#2a2e39" stroke-width="1"/><path d="M1137.6 1053.3L1131.4 1055.7L1135.4 1060.1z" fill="#2a2e39"/><circle cx="1162.5" cy="1060.5" r="1.9" fill="none" stroke="#2a2e39" stroke-width="1"/><path d="M1164.4 1060.5h17" fill="none" stroke="#2a2e39" stroke-width="1"/></g>
<g id="left"><!-- left toolbar -->
<rect x="0" y="0" width="52" height="1080" fill="#fff"/>
<rect x="52" y="0" width="4" height="1080" fill="#e0e3eb"/>
<g fill="none" stroke="#2196f3" stroke-width="1">
<path d="M26.5 13v7.2M26.5 28.8v7.2M15 24.5h7.2M30.8 24.5h7.2"/>
</g>
<g fill="none" stroke="#1c2030" stroke-width="1">
<!-- trend line w arrow -->
<circle cx="17.3" cy="67.4" r="2"/><circle cx="34.8" cy="51.8" r="2"/>
<path d="M18.8 66L33.3 53.2"/><path d="M32.8 53.6L26.8 56L30.6 60.2z" fill="#1c2030"/>
<!-- pitchfork -->
<circle cx="17.3" cy="93" r="2"/><circle cx="17.3" cy="104.7" r="2"/><circle cx="28.6" cy="104.7" r="2"/>
<path d="M18.8 91.6L26.6 85.4M18.8 103.3L31.2 91.6M30 103.3L36.2 97.2M18.6 94.5L27.3 103.4"/>
<!-- rectangle -->
<circle cx="17.3" cy="123" r="2"/><circle cx="34.5" cy="123" r="2"/><circle cx="17.3" cy="140.8" r="2"/><circle cx="34.5" cy="140.8" r="2"/>
<path d="M19.3 123h13.2M19.3 140.8h13.2M17.3 125v13.8M34.5 125v13.8"/>
<!-- T -->
<path d="M20 163v-2.5h12.8v2.5M26.4 160.5v16M23.6 176.5h5.6"/>
<!-- pattern -->
<circle cx="17.3" cy="212.4" r="1.9"/><circle cx="20.2" cy="195.8" r="1.9"/><circle cx="25" cy="202.4" r="1.9"/><circle cx="32.6" cy="195.8" r="1.9"/><circle cx="35.6" cy="208.8" r="1.9"/>
<path d="M17.7 210.5L19.8 197.7M21.4 197.3L23.8 200.9M26.5 201.2L31.1 197M33 197.7L35.2 206.9M18.8 211.2L23.5 203.6M26.7 203.3L33.9 208"/>
<!-- forecast -->
<circle cx="16.8" cy="231" r="1.9"/><circle cx="16.8" cy="242.4" r="1.9"/><circle cx="36.6" cy="242.4" r="1.9"/><circle cx="16.8" cy="249.6" r="1.9"/>
<path d="M18.7 231H37M18.7 242.4H34.7M18.7 249.6H37M26.5 234v13M24.5 236l2-2.3l2 2.3M24.5 245l2 2.3l2-2.3"/>
</g>
<!-- back arrow -->
<path d="M19.2 277.6l8.2-7.6 2.2 2.4-3.6 3.4h8.6v3.4h-8.6l3.6 3.4-2.2 2.4z" fill="#ff9800" transform="translate(-0.9,0)"/>
<path d="M19.2 277.6l8.2-7.6 2.2 2.4-3.6 3.4h8.6v3.4h-8.6l3.6 3.4-2.2 2.4z" fill="#000"/>
<path d="M0 300.5H52M0 385.5H52M0 542.5H52" stroke="#e0e3eb" stroke-width="1"/>
<g fill="none" stroke="#1c2030" stroke-width="1">
<!-- ruler -->
<g transform="translate(26,325) rotate(-35)"><rect x="-12.5" y="-4" width="25" height="8" rx="1"/><path d="M-8.5 -4v3M-5 -4v3M-1.5 -4v3M2 -4v3M5.5 -4v3M9 -4v3"/></g>
<!-- zoom -->
<circle cx="24.6" cy="359.4" r="8.3"/><path d="M24.6 355.6v7.6M20.8 359.4h7.6M30.6 365.4L34.2 369"/>
<!-- magnet -->
<path d="M18.4 418.5v-10.2a7.6 7.6 0 0 1 15.2 0v10.2h-4.8v-10.2a2.8 2.8 0 0 0-5.6 0v10.2zM18.4 414.6h4.8M28.8 414.6h4.8"/>
<!-- pencil lock -->
<path d="M15.4 449.8l1-4.6 11-8.6 3.6 3.4-11 9zM16.6 445.4l3.2 3.2M25.6 438l3.6 3.6"/>
<rect x="27.6" y="448.8" width="7.8" height="6.4" rx="1"/><path d="M29.4 448.8v-2a2.1 2.1 0 0 1 4.2 0"/><circle cx="31.5" cy="452" r="0.6" fill="#1c2030"/>
<!-- lock open -->
<rect x="18.4" y="480" width="15.4" height="11" rx="1.6"/><path d="M22 480v-3.6a4.2 4.2 0 0 1 8.2-0.8"/><path d="M26.1 484.4v2.8" stroke-width="1.6"/>
<!-- eye -->
<path d="M16.2 518c3-5 6.4-6.6 9.8-6.6s6.800000000000001 1.6 9.8 6.6c-3 5-6.4 6.6-9.8 6.6s-6.8-1.6-9.8-6.6z"/><circle cx="26" cy="518" r="3.2" fill="#1c2030"/>
<!-- trash -->
<path d="M18.6 558.8h13.600000000000001M22.8 558.6v-1.2h5.2v1.2M19.8 560.6h11.2v9.8a1.6 1.6 0 0 1-1.6 1.6h-8a1.6 1.6 0 0 1-1.6-1.600000000000001zM22.6 562.6v7M25.4 562.6v7M28.2 562.6v7"/>
</g>
<!-- star button -->
<rect x="11.1" y="991" width="29.8" height="29.9" rx="3.5" fill="#2196f3"/>
<path d="M25.9 997.4l2.8 6 6.5 0.7-4.9 4.4 1.4 6.4-5.8-3.300000000000000000-5.8 3.300000000000000000 1.4-6.4-4.9-4.4 6.5-0.7z" fill="none" stroke="#fff" stroke-width="1.2" stroke-linejoin="round"/>
<!-- layers -->
<g fill="none" stroke="#1c2030" stroke-width="1" stroke-linejoin="round"><path d="M25.9 1031.8l9.3 6.9-9.3 6.5-9.2-6.5z" fill="#fff"/><path d="M18 1042.9l7.9 5.5 7.9-5.5M18.5 1046.1l7.4 5.600000000000000000 7.4-5.600000000000000000"/></g>
<!-- collapse handle -->
<rect x="46.2" y="995.3" width="8" height="26.2" rx="4" fill="#fff" stroke="#e6e8ee" stroke-width="1"/>
<path d="M51.6 1005.2l-2.2 3.4 2.2 3.4" fill="none" stroke="#9aa0ad" stroke-width="0.9"/>
</g>
</svg>
</body></html>
